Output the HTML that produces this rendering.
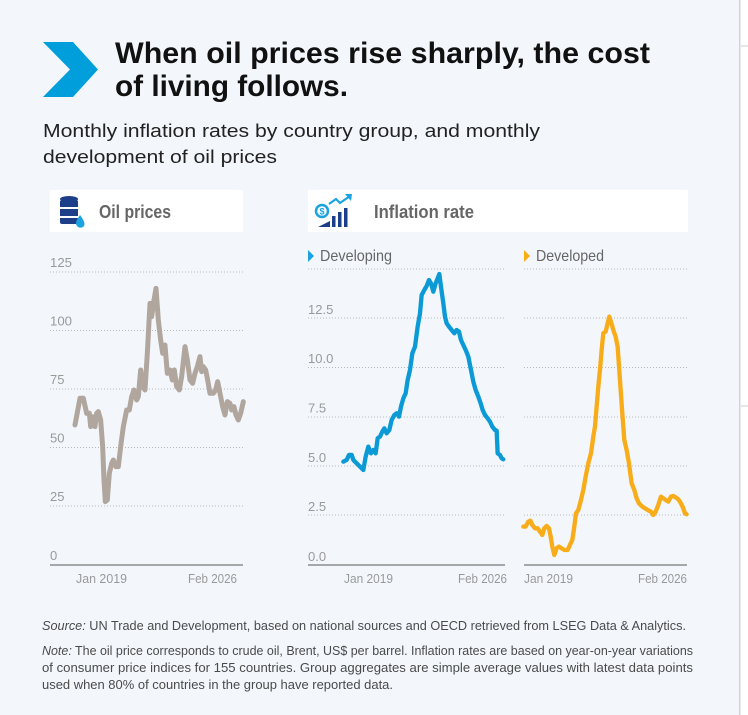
<!DOCTYPE html>
<html><head><meta charset="utf-8"><style>
html,body{margin:0;padding:0;background:#fff;}
svg{display:block;font-family:"Liberation Sans",sans-serif;}
</style></head><body>
<svg width="748" height="715" viewBox="0 0 748 715" xmlns="http://www.w3.org/2000/svg">
<rect x="0" y="0" width="739" height="715" fill="#f3f7fc"/>
<rect x="739" y="0" width="1.5" height="715" fill="#cfd3d8"/>
<line x1="741" y1="46" x2="748" y2="46" stroke="#ccc" stroke-width="1"/>
<line x1="741" y1="406" x2="748" y2="406" stroke="#ccc" stroke-width="1"/>

<polygon points="43,42 73,42 98,69.5 73,97 43,97 70,69.5" fill="#009edb"/>
<text x="115" y="63" font-size="30" font-weight="bold" fill="#111" textLength="535" lengthAdjust="spacingAndGlyphs">When oil prices rise sharply, the cost</text>
<text x="115" y="96" font-size="30" font-weight="bold" fill="#111" textLength="233" lengthAdjust="spacingAndGlyphs">of living follows.</text>
<text x="43" y="137" font-size="18" fill="#222" textLength="497" lengthAdjust="spacingAndGlyphs">Monthly inflation rates by country group, and monthly</text>
<text x="43" y="163" font-size="18" fill="#222" textLength="234" lengthAdjust="spacingAndGlyphs">development of oil prices</text>

<!-- headers -->
<rect x="50" y="190" width="193" height="42" fill="#fff"/>
<g fill="#1d3f8a">
<ellipse cx="69" cy="199" rx="9" ry="3"/>
<rect x="60" y="200" width="18" height="24" rx="2"/>
<rect x="59" y="207" width="20" height="2" fill="#fff"/>
<rect x="59" y="216" width="20" height="2" fill="#fff"/>
</g>
<path d="M80,215 q-6,8 -3,11 a4.5,4.5 0 0 0 7,0 q2,-3 -4,-11z" fill="#1aa3e0"/>
<text x="99" y="218" font-size="18" font-weight="bold" fill="#666" textLength="72" lengthAdjust="spacingAndGlyphs">Oil prices</text>

<rect x="308" y="190" width="380" height="42" fill="#fff"/>
<circle cx="322" cy="211" r="6" fill="none" stroke="#1aa3e0" stroke-width="2.5"/>
<text x="322" y="214.5" font-size="9" fill="#1aa3e0" text-anchor="middle" font-weight="bold">$</text>
<polygon points="318,227 330,221 330,227" fill="#1d3f8a"/>
<rect x="332" y="216" width="3.5" height="11" fill="#1d3f8a"/>
<rect x="338" y="212" width="3.5" height="15" fill="#1d3f8a"/>
<rect x="344" y="208" width="3.5" height="19" fill="#1d3f8a"/>
<polyline points="329,204 336,199 340,203 350,196" fill="none" stroke="#1aa3e0" stroke-width="2.2"/>
<polygon points="345,194 352,194 351,201" fill="#1aa3e0"/>
<text x="374" y="218" font-size="18" font-weight="bold" fill="#666" textLength="100" lengthAdjust="spacingAndGlyphs">Inflation rate</text>

<!-- oil gridlines -->
<g stroke="#b8b8b8" stroke-width="1" stroke-dasharray="1,2">
<line x1="50" y1="272" x2="243" y2="272"/><line x1="50" y1="330.5" x2="243" y2="330.5"/>
<line x1="50" y1="389" x2="243" y2="389"/><line x1="50" y1="447.5" x2="243" y2="447.5"/>
<line x1="50" y1="506" x2="243" y2="506"/>
</g>
<line x1="50" y1="565" x2="243" y2="565" stroke="#777" stroke-width="1.3"/>
<g font-size="13" fill="#999">
<text x="50" y="267" textLength="22" lengthAdjust="spacingAndGlyphs">125</text><text x="50" y="325.5" textLength="22" lengthAdjust="spacingAndGlyphs">100</text><text x="50" y="384">75</text>
<text x="50" y="442.5">50</text><text x="50" y="501">25</text><text x="50" y="560">0</text>
<text x="76" y="583" textLength="51" lengthAdjust="spacingAndGlyphs">Jan 2019</text>
<text x="188" y="583" textLength="49" lengthAdjust="spacingAndGlyphs">Feb 2026</text>
</g>
<g transform="translate(30,180) scale(0.3333)">
<polyline fill="none" stroke="#b0a69e" stroke-width="15" stroke-linejoin="round" stroke-linecap="round" points="135,735 150,655 160,655 170,700 178,700 182,740 188,710 195,740 200,700 205,695 212,720 218,800 222,900 226,965 232,960 238,880 245,850 250,840 258,860 265,860 272,800 280,740 290,690 298,690 305,650 312,630 320,660 325,650 332,570 338,620 345,630 352,520 360,370 365,410 372,360 378,325 385,420 392,480 398,520 405,495 412,580 420,570 427,600 433,570 440,620 448,630 455,590 465,500 472,540 480,600 488,610 495,580 502,560 510,530 515,575 520,560 527,570 533,600 540,640 550,640 557,630 563,605 570,640 578,680 585,705 592,665 600,670 605,690 612,680 618,705 625,720 632,700 640,665"/>
</g>

<!-- inflation gridlines -->
<g stroke="#b8b8b8" stroke-width="1" stroke-dasharray="1,2">
<line x1="308" y1="269" x2="505" y2="269"/><line x1="308" y1="318" x2="505" y2="318"/>
<line x1="308" y1="367.5" x2="505" y2="367.5"/><line x1="308" y1="417" x2="505" y2="417"/>
<line x1="308" y1="466" x2="505" y2="466"/><line x1="308" y1="515" x2="505" y2="515"/>
<line x1="524" y1="269" x2="687" y2="269"/><line x1="524" y1="318" x2="687" y2="318"/>
<line x1="524" y1="367.5" x2="687" y2="367.5"/><line x1="524" y1="417" x2="687" y2="417"/>
<line x1="524" y1="466" x2="687" y2="466"/><line x1="524" y1="515" x2="687" y2="515"/>
</g>
<line x1="308" y1="565" x2="505" y2="565" stroke="#777" stroke-width="1.3"/>
<line x1="524" y1="565" x2="687" y2="565" stroke="#777" stroke-width="1.3"/>
<g font-size="13" fill="#999">
<text x="308" y="314">12.5</text><text x="308" y="363">10.0</text><text x="308" y="412.5">7.5</text>
<text x="308" y="462">5.0</text><text x="308" y="511">2.5</text><text x="308" y="561">0.0</text>
<text x="344" y="583" textLength="49" lengthAdjust="spacingAndGlyphs">Jan 2019</text>
<text x="458" y="583" textLength="49" lengthAdjust="spacingAndGlyphs">Feb 2026</text>
<text x="524" y="583" textLength="49" lengthAdjust="spacingAndGlyphs">Jan 2019</text>
<text x="638" y="583" textLength="49" lengthAdjust="spacingAndGlyphs">Feb 2026</text>
</g>
<polygon points="308,250 314,256 308,262" fill="#1aa3e0"/>
<text x="320" y="261" font-size="16" fill="#666" textLength="72" lengthAdjust="spacingAndGlyphs">Developing</text>
<polygon points="524,250 530,256 524,262" fill="#fbad18"/>
<text x="536" y="261" font-size="16" fill="#666" textLength="68" lengthAdjust="spacingAndGlyphs">Developed</text>

<g transform="translate(295,180) scale(0.3333)" fill="none" stroke-width="13" stroke-linejoin="round" stroke-linecap="round">
<polyline stroke="#0b9ad6" points="145,845 155,840 162,825 170,825 175,840 185,850 195,860 205,870 212,830 220,800 228,820 235,810 242,820 248,775 255,770 262,755 268,745 275,760 283,750 290,720 298,705 305,700 312,710 318,680 325,655 332,640 338,600 345,570 352,520 360,500 368,440 375,400 380,345 388,330 395,318 402,300 408,310 415,335 422,310 428,295 433,282 438,320 445,370 450,410 455,430 462,440 470,450 478,460 485,450 492,455 498,480 505,495 512,510 520,530 528,570 535,605 542,630 550,650 557,670 563,690 570,705 578,715 585,725 592,740 600,750 605,752 608,820 615,825 620,835 625,838"/>
<polyline stroke="#f8ac19" points="685,1040 692,1040 700,1025 706,1022 712,1035 720,1045 728,1045 735,1055 742,1065 748,1045 755,1038 762,1045 768,1075 772,1100 778,1125 785,1105 792,1100 800,1105 808,1110 818,1110 825,1095 832,1080 838,1040 843,1000 850,990 858,960 865,930 872,890 880,850 888,820 895,770 900,740 905,680 910,620 915,570 920,510 925,460 932,455 938,430 943,410 948,425 955,450 962,470 968,500 975,600 982,700 988,780 995,810 1002,850 1010,910 1018,930 1025,955 1032,970 1042,980 1050,985 1058,990 1068,995 1075,1005 1082,995 1090,975 1098,950 1105,955 1112,960 1120,965 1128,950 1135,948 1142,952 1150,958 1158,970 1165,985 1170,1000 1175,1003"/>
</g>

<!-- footer -->
<g font-size="12.5" fill="#4a4a4a">
<text x="42" y="630" textLength="644" lengthAdjust="spacingAndGlyphs"><tspan font-style="italic">Source:</tspan> UN Trade and Development, based on national sources and OECD retrieved from LSEG Data &amp; Analytics.</text>
<text x="42" y="655" textLength="651" lengthAdjust="spacingAndGlyphs"><tspan font-style="italic">Note:</tspan> The oil price corresponds to crude oil, Brent, US$ per barrel. Inflation rates are based on year-on-year variations</text>
<text x="42" y="672" textLength="651" lengthAdjust="spacingAndGlyphs">of consumer price indices for 155 countries. Group aggregates are simple average values with latest data points</text>
<text x="42" y="689" textLength="351" lengthAdjust="spacingAndGlyphs">used when 80% of countries in the group have reported data.</text>
</g>
</svg>
</body></html>
